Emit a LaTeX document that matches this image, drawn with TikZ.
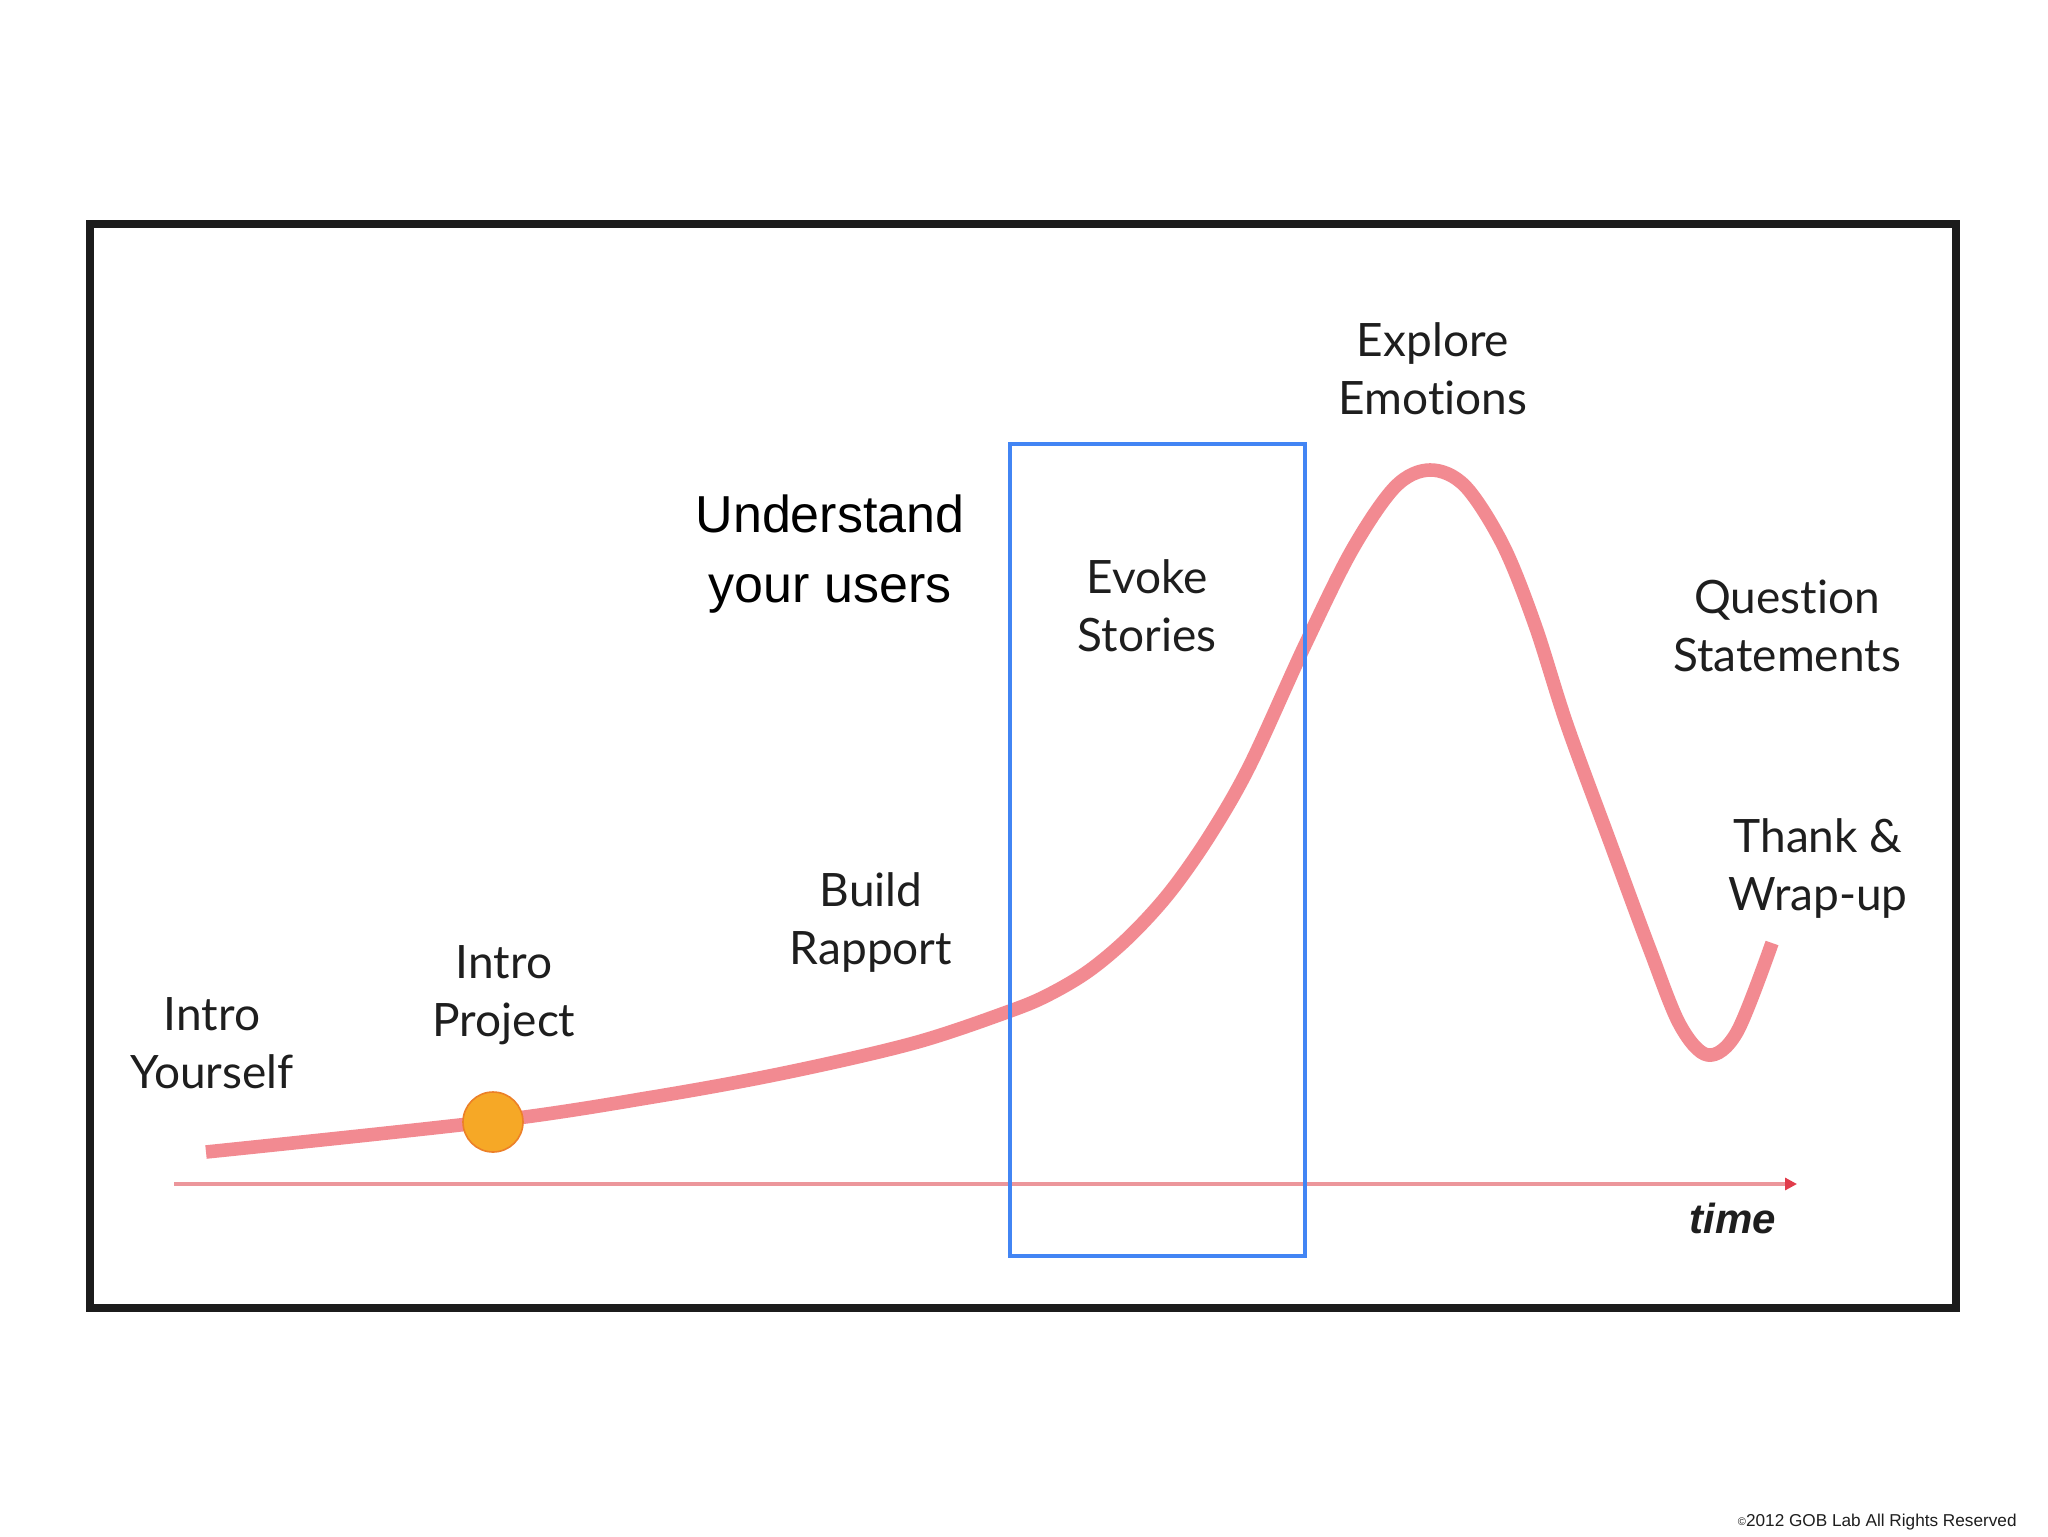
\documentclass[tikz,border=0pt]{standalone}
\usepackage{fontspec}
\setmainfont{Lato}[Ligatures=NoCommon]
\newfontfamily\helv{Liberation Sans}
\usetikzlibrary{arrows.meta}
\definecolor{curvepink}{RGB}{242,138,145}
\definecolor{axispink}{RGB}{236,150,155}
\definecolor{arrowred}{RGB}{225,60,75}
\definecolor{boxblue}{RGB}{66,133,244}
\definecolor{frameblack}{RGB}{28,28,28}
\definecolor{dotfill}{RGB}{246,168,38}
\definecolor{dotdraw}{RGB}{236,128,40}
\definecolor{textblack}{RGB}{30,30,30}
\begin{document}
\begin{tikzpicture}[x=0.5pt,y=-0.5pt,
  stagelabel/.style={font=\fontsize{23}{29}\selectfont, align=center, anchor=base, inner sep=0pt, text=textblack},
  frame/.style={line width=4pt, draw=frameblack},
  focusbox/.style={line width=1.6pt, draw=boxblue},
  axisline/.style={line width=2pt, draw=axispink, -{Triangle[length=6pt,width=6pt,color=arrowred]}},
  curveline/.style={line width=6.8pt, draw=curvepink, line cap=butt, line join=round},
  dotmark/.style={circle, minimum size=30pt, inner sep=0pt, fill=dotfill, draw=dotdraw, line width=0.8pt}]
\useasboundingbox (0,0) rectangle (2048,1536);
\fill[white] (0,0) rectangle (2048,1536);
% frame
\draw[frame] (90,224) rectangle (1956,1308);
% time axis
\coordinate (t0) at (174,1184);
\coordinate (t1) at (1797,1184);
\draw[axisline] (t0) -- (t1);
\node[font=\helv\bfseries\itshape\fontsize{21}{25}\selectfont, text=textblack, anchor=base, inner sep=0pt] (time) at (1733,1233) {time};
% curve
\draw[curveline] plot[smooth, tension=0.55] coordinates {
 (206,1152) (494,1121) (653,1097) (784,1073) (914,1043) (1010,1011)
 (1050,994) (1090,970) (1130,936) (1170,892) (1210,835) (1250,765)
 (1305,645) (1352,550) (1395,487) (1430,470) (1465,486) (1503,545)
 (1535,625) (1567,725) (1610,842) (1650,950) (1680,1025) (1708,1055)
 (1737,1032) (1772,943)};
\node[dotmark] (proj) at (493,1122) {};
% focus box
\draw[focusbox] (1010,444) rectangle (1305,1256);
% labels (anchor = baseline of last line)
\node[stagelabel] (intro) at (212,1088) {Intro\\Yourself};
\node[stagelabel] (project) at (504,1036) {Intro\\Project};
\node[stagelabel] (rapport) at (871,964) {Build\\Rapport};
\node[stagelabel] (evoke) at (1147,651) {Evoke\\Stories};
\node[stagelabel] (explore) at (1433,414) {Explore\\Emotions};
\node[stagelabel] (question) at (1787,671) {Question\\Statements};
\node[stagelabel] (thank) at (1818,910) {Thank \&\\Wrap-up};
\node[font=\helv\fontsize{26}{35}\selectfont, align=center, anchor=base, inner sep=0pt, text=black] (understand) at (830,602) {Understand\\your users};
% copyright
\node[font=\helv\fontsize{8.6}{10}\selectfont, anchor=base east, inner sep=0pt, text=textblack] (copy) at (2017,1526) {{\fontsize{5.5}{6}\selectfont\raisebox{0.5pt}{©}}2012 GOB Lab All Rights Reserved};
\end{tikzpicture}
\end{document}
